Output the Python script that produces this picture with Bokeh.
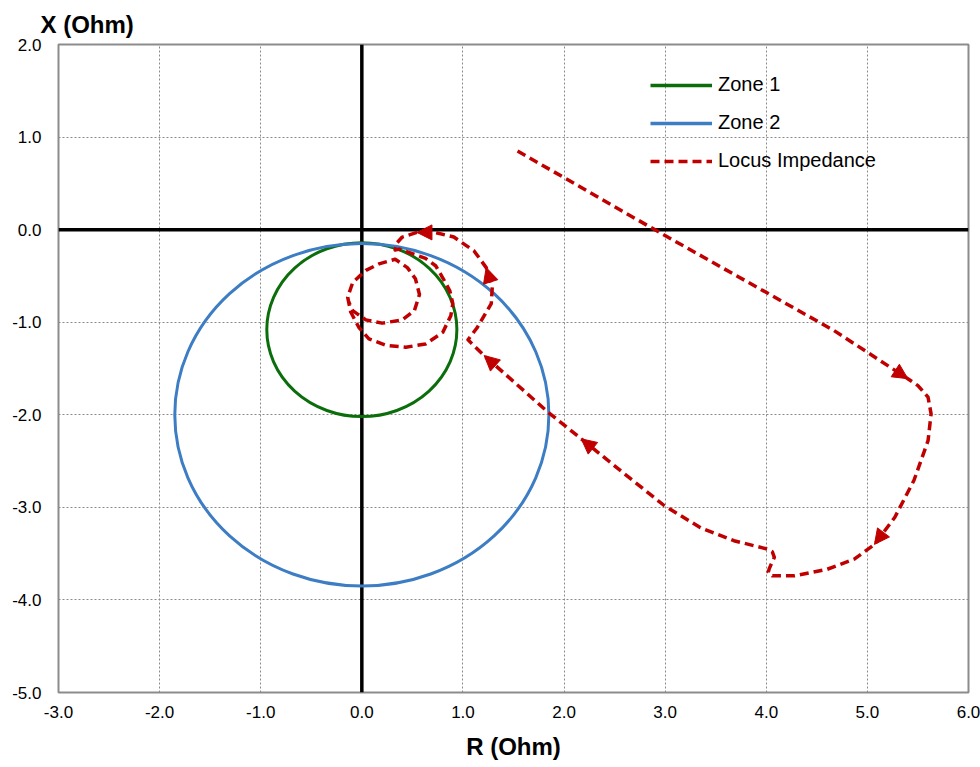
from bokeh.plotting import figure
from bokeh.models import (Span, Arrow, NormalHead, ColumnDataSource, Legend, LegendItem,
                          FixedTicker, NumeralTickFormatter, Range1d)
from bokeh.embed import file_html
from bokeh.resources import INLINE

# ---- data ----
x_ticks = [-3, -2, -1, 0, 1, 2, 3, 4, 5, 6]
y_ticks = [-5, -4, -3, -2, -1, 0, 1, 2]

zone_names = ["Zone 1", "Zone 2"]
zone_center_r = [0.0, 0.0]
zone_center_x = [-1.08, -2.0]
zone_radius = [0.94, 1.85]
zone_colors = ["#0B6E0B", "#3C7DC4"]

locus_r = [1.54, 2.96, 4.67, 5.00, 5.40, 5.50, 5.60, 5.63, 5.60, 5.46,
           5.27, 5.07, 4.87, 4.60, 4.28, 4.06, 4.02, 4.03, 4.08, 4.06,
           4.01, 3.68, 3.35, 2.99, 2.60, 2.17, 1.84, 1.21, 1.05, 1.14,
           1.28, 1.29, 1.23, 1.11, 0.91, 0.72, 0.545, 0.40, 0.35, 0.33,
           0.37, 0.50, 0.63, 0.73, 0.80, 0.87, 0.90, 0.88, 0.80, 0.63,
           0.435, 0.24, 0.07, -0.03, -0.11, -0.14, -0.09, 0.04, 0.17, 0.33,
           0.45, 0.53, 0.57, 0.52, 0.40, 0.20, 0.04, -0.09, -0.13]
locus_x = [0.85, -0.04, -1.09, -1.325, -1.61, -1.685, -1.81, -1.99, -2.28, -2.71,
           -3.11, -3.40, -3.56, -3.67, -3.74, -3.74, -3.70, -3.66, -3.54, -3.48,
           -3.45, -3.36, -3.22, -2.98, -2.64, -2.26, -1.97, -1.36, -1.19, -1.06,
           -0.80, -0.62, -0.41, -0.23, -0.08, -0.03, -0.03, -0.08, -0.14, -0.22,
           -0.21, -0.26, -0.31, -0.39, -0.52, -0.66, -0.80, -0.93, -1.11, -1.235,
           -1.27, -1.25, -1.18, -1.055, -0.89, -0.73, -0.57, -0.44, -0.37, -0.32,
           -0.41, -0.53, -0.70, -0.875, -0.975, -1.01, -0.975, -0.875, -0.78]
arrow_idx = [4, 11, 25, 27, 32, 36]

LOCUS_COLOR = "#C00000"
FONT = "Liberation Sans"

p = figure(width=980, height=767, output_backend="svg", toolbar_location=None,
           x_range=Range1d(-3, 6), y_range=Range1d(-5, 2),
           min_border_left=58, min_border_right=12, min_border_top=44, min_border_bottom=75)

p.background_fill_color = "white"
p.border_fill_color = "white"
p.outline_line_color = "#8C8C8C"
p.outline_line_width = 2

# title acting as Y axis label
p.title.text = "X (Ohm)"
p.title.text_font = FONT
p.title.text_font_size = "24px"
p.title.text_font_style = "bold"
p.title.text_color = "black"
p.title.align = "left"
p.title.offset = -18
p.title.standoff = 14

# axes
for ax in (p.xaxis, p.yaxis):
    ax.axis_line_color = None
    ax.major_tick_line_color = None
    ax.minor_tick_line_color = None
    ax.major_label_text_font = FONT
    ax.major_label_text_font_size = "17px"
    ax.major_label_text_color = "black"
    ax.formatter = NumeralTickFormatter(format="0.0")
p.xaxis.ticker = FixedTicker(ticks=x_ticks)
p.yaxis.ticker = FixedTicker(ticks=y_ticks)
p.xaxis.major_label_standoff = 7
p.yaxis.major_label_standoff = 11
p.xaxis.axis_label = "R (Ohm)"
p.xaxis.axis_label_text_font = FONT
p.xaxis.axis_label_text_font_size = "24px"
p.xaxis.axis_label_text_font_style = "bold"
p.xaxis.axis_label_text_color = "black"
p.xaxis.axis_label_standoff = 12

p.grid.grid_line_color = "#8A8A8A"
p.grid.grid_line_dash = "2 2"
p.grid.grid_line_width = 1

# thick origin axes
p.add_layout(Span(location=0, dimension="width", line_color="black", line_width=3.5, level="underlay"))
p.add_layout(Span(location=0, dimension="height", line_color="black", line_width=3.5, level="underlay"))

# zones
nan = float("nan")
zone_proxies = []
for name, cr, cx, rad, col in zip(zone_names, zone_center_r, zone_center_x, zone_radius, zone_colors):
    p.ellipse(x=[cr], y=[cx], width=[2 * rad], height=[2 * rad],
              fill_color=None, line_color=col, line_width=3)
    zone_proxies.append(p.line(x=[nan, nan], y=[nan, nan], line_color=col, line_width=3.5))

# locus
locus = p.line(locus_r, locus_x, line_color=LOCUS_COLOR, line_width=3.5,
               line_dash="9 5", line_join="round")

arrow_src = ColumnDataSource(dict(
    x0=[locus_r[i - 1] for i in arrow_idx], y0=[locus_x[i - 1] for i in arrow_idx],
    x1=[locus_r[i] for i in arrow_idx], y1=[locus_x[i] for i in arrow_idx]))
p.add_layout(Arrow(end=NormalHead(size=15, fill_color=LOCUS_COLOR, line_color=LOCUS_COLOR),
                   x_start="x0", y_start="y0", x_end="x1", y_end="y1",
                   source=arrow_src, line_alpha=0))

legend = Legend(items=[LegendItem(label=zone_names[0], renderers=[zone_proxies[0]]),
                       LegendItem(label=zone_names[1], renderers=[zone_proxies[1]]),
                       LegendItem(label="Locus Impedance", renderers=[locus])],
                location=(592, 520))
legend.glyph_width = 62
legend.glyph_height = 20
legend.label_height = 20
legend.spacing = 15
legend.padding = 0
legend.margin = 0
legend.label_standoff = 6
legend.border_line_color = None
legend.background_fill_alpha = 0
legend.label_text_font = FONT
legend.label_text_font_size = "20px"
legend.label_text_color = "black"
p.add_layout(legend)

open("out.html", "w").write(file_html(p, INLINE))
